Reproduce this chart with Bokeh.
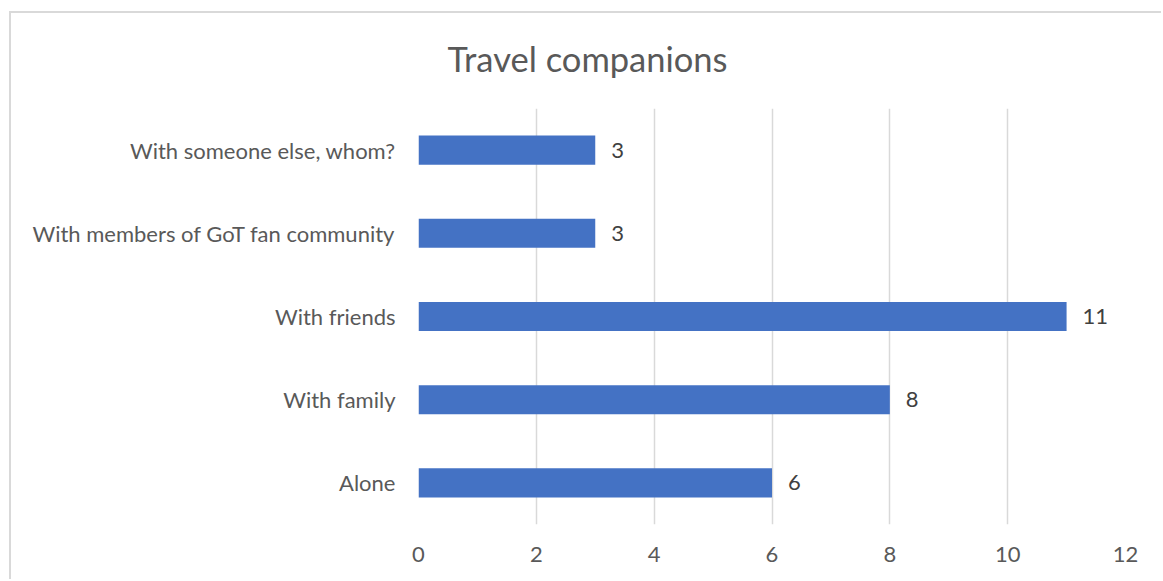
from bokeh.plotting import figure
from bokeh.models import ColumnDataSource, FactorRange, Range1d, LabelSet, FixedTicker
from bokeh.core.properties import value
from bokeh.embed import file_html
from bokeh.resources import INLINE

categories = ["Alone", "With family", "With friends", "With members of GoT fan community", "With someone else, whom?"]
counts = [6, 8, 11, 3, 3]
x_ticks = [0, 2, 4, 6, 8, 10, 12]
title_text = "Travel companions"

FONT = "Lato"
TXT = "#595959"

src = ColumnDataSource(dict(cat=categories, n=counts, lbl=[str(v) for v in counts]))

p = figure(width=1161, height=579, output_backend="svg", toolbar_location=None,
           y_range=FactorRange(factors=categories, range_padding=0),
           x_range=Range1d(0, 12), title=title_text)
p.styles = {
    "background": "linear-gradient(#d9d9d9, #d9d9d9) 9px 11px / 2px 100% no-repeat, "
                  "linear-gradient(#d9d9d9, #d9d9d9) 9px 11px / 100% 2px no-repeat, white"
}
p.min_border_left = 418
p.min_border_right = 36
p.min_border_top = 108
p.min_border_bottom = 55
p.outline_line_color = None
p.background_fill_color = "white"
p.border_fill_color = None

p.title.text_font = FONT
p.title.text_font_size = "34.5px"
p.title.text_font_style = "normal"
p.title.text_color = TXT
p.title.align = "left"
p.title.offset = 29
p.title.standoff = 59

p.hbar(y="cat", right="n", left=0, height=0.35, source=src, color="#4472C4", line_color=None)

p.add_layout(LabelSet(x="n", y="cat", text="lbl", source=src, x_offset=16, text_baseline="middle",
                      text_font=value(FONT), text_font_size="22px", text_color="#404040"))

p.xgrid.ticker = FixedTicker(ticks=x_ticks)
p.xaxis.ticker = FixedTicker(ticks=x_ticks)
p.xgrid.grid_line_color = "#d9d9d9"
p.xgrid.grid_line_width = 1.5
p.ygrid.grid_line_color = None

for ax in (p.xaxis[0], p.yaxis[0]):
    ax.axis_line_color = None
    ax.major_tick_line_color = None
    ax.minor_tick_line_color = None
    ax.major_label_text_font = FONT
    ax.major_label_text_font_size = "22px"
    ax.major_label_text_color = TXT
p.xaxis.major_label_standoff = 16
p.yaxis.major_label_standoff = 17

open("out.html", "w").write(file_html(p, INLINE))
